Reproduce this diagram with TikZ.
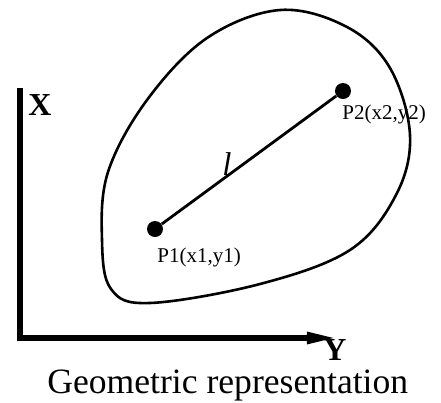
\documentclass[tikz,border=0pt]{standalone}
\usepackage{fontspec}
\setmainfont{Liberation Serif}
\usetikzlibrary{arrows.meta,positioning}

\begin{document}
\begin{tikzpicture}[x=0.5pt, y=-0.5pt,
    dot/.style={circle, fill=black, inner sep=0pt, minimum size=8pt},
    ptlabel/.style={font=\fontsize{10.5}{12}\selectfont, inner sep=0pt, anchor=base west},
    axis/.style={line width=2.7pt, -{Triangle[length=15pt, width=5.5pt]}},
    axlabel/.style={font=\fontsize{16}{19}\selectfont\bfseries, inner sep=0pt}]
    \useasboundingbox (0,0) rectangle (441,403);
    % region boundary
    \draw[line width=1.3pt] plot[smooth cycle, tension=0.6] coordinates {
        (280,10) (347,27) (390,68) (410,135) (396,195) (350,250)
        (260,284) (150,303) (111,289) (102,240) (108,172) (147,100) (207,38)};
    % axes
    \coordinate (xend) at (20,88);
    \coordinate (o) at (20,338);
    \coordinate (yend) at (337,338);
    \draw[axis] (xend) -- (o) -- (yend);
    \node[axlabel, anchor=base west] (xlab) at (28,115) {X};
    \node[axlabel, anchor=base] (ylab) at (335,360) {Y};
    % points and segment
    \node[dot] (p1) at (155,229) {};
    \node[dot] (p2) at (343,91) {};
    \draw[line width=1.4pt] (p1) -- (p2);
    \node[ptlabel] (p1lab) at (157,262) {P1(x1,y1)};
    \node[ptlabel] (p2lab) at (342,119) {P2(x2,y2)};
    \node[font=\fontsize{16.5}{18}\selectfont\itshape, anchor=base, inner sep=0pt] (len) at (227,175) {l};
    \node[font=\fontsize{17.8}{22}\selectfont, anchor=base west, inner sep=0pt] (cap) at (47,393) {Geometric representation};
\end{tikzpicture}
\end{document}
